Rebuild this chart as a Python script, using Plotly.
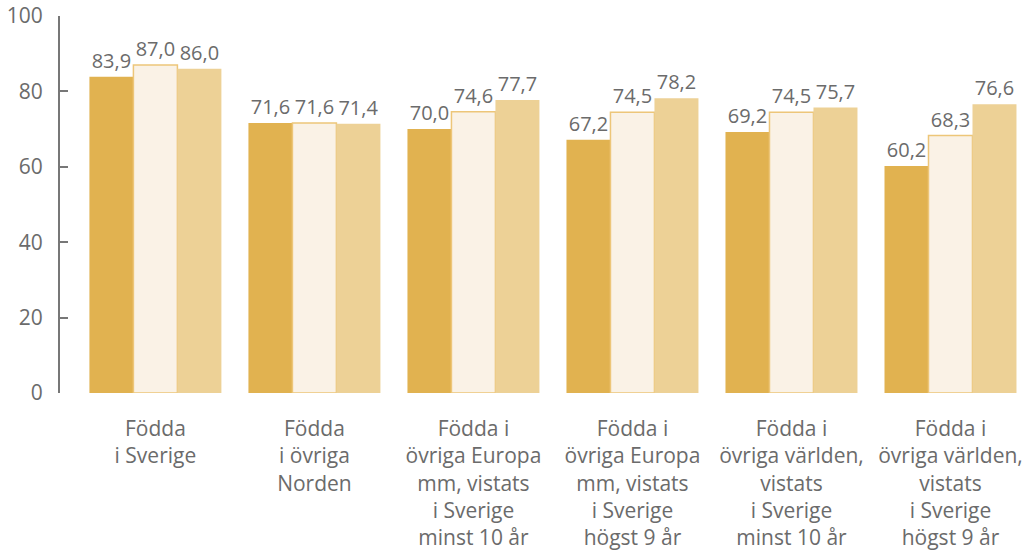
import plotly.graph_objects as go

categories = [
    "Födda<br>i Sverige",
    "Födda<br>i övriga<br>Norden",
    "Födda i<br>övriga Europa<br>mm, vistats<br>i Sverige<br>minst 10 år",
    "Födda i<br>övriga Europa<br>mm, vistats<br>i Sverige<br>högst 9 år",
    "Födda i<br>övriga världen,<br>vistats<br>i Sverige<br>minst 10 år",
    "Födda i<br>övriga världen,<br>vistats<br>i Sverige<br>högst 9 år",
]
series1 = [83.9, 71.6, 70.0, 67.2, 69.2, 60.2]
series2 = [87.0, 71.6, 74.6, 74.5, 74.5, 68.3]
series3 = [86.0, 71.4, 77.7, 78.2, 75.7, 76.6]
y_ticks = [0, 20, 40, 60, 80, 100]

FONT = "Open Sans"
GREY = "#6b6b6b"
x = list(range(len(categories)))

fig = go.Figure()
styles = [
    (series1, "#E1B250", "#E1B250", 0),
    (series2, "#FAF2E6", "#EDC679", 1.5),
    (series3, "#EDD196", "#EDD196", 0),
]
for vals, fill, line, lw in styles:
    fig.add_trace(go.Bar(
        x=x, y=vals,
        marker=dict(color=fill, line=dict(color=line, width=lw)),
        texttemplate="%{y:.1f}", textposition="outside",
        textfont=dict(family=FONT, size=20, color=GREY),
        cliponaxis=False, showlegend=False, hoverinfo="skip",
    ))

fig.update_layout(
    width=1030, height=557,
    margin=dict(l=60, r=0, t=16, b=164, autoexpand=False),
    plot_bgcolor="white", paper_bgcolor="white",
    barmode="group", bargap=0.17, bargroupgap=0,
    separators=",.",
    font=dict(family=FONT, color=GREY),
    uniformtext=dict(minsize=20, mode="show"),
)
fig.update_xaxes(
    range=[-0.6, 5.5], tickvals=x, ticktext=categories, automargin=False,
    showgrid=False, zeroline=False, showline=False, ticks="",
    tickfont=dict(family=FONT, size=21, color=GREY), ticklabelstandoff=21,
)
fig.update_yaxes(
    range=[0, 100], tickvals=y_ticks, showgrid=False, zeroline=False,
    automargin=False,
    showline=True, linecolor="#777", linewidth=2,
    ticks="inside", ticklen=8, tickcolor="#777", tickwidth=2,
    tickfont=dict(family=FONT, size=21, color=GREY), ticklabelstandoff=11,
)
fig.write_html(
    "out.html",
    config={"displayModeBar": False},
    post_script="document.body.style.margin='0';document.body.style.overflow='hidden';",
)
